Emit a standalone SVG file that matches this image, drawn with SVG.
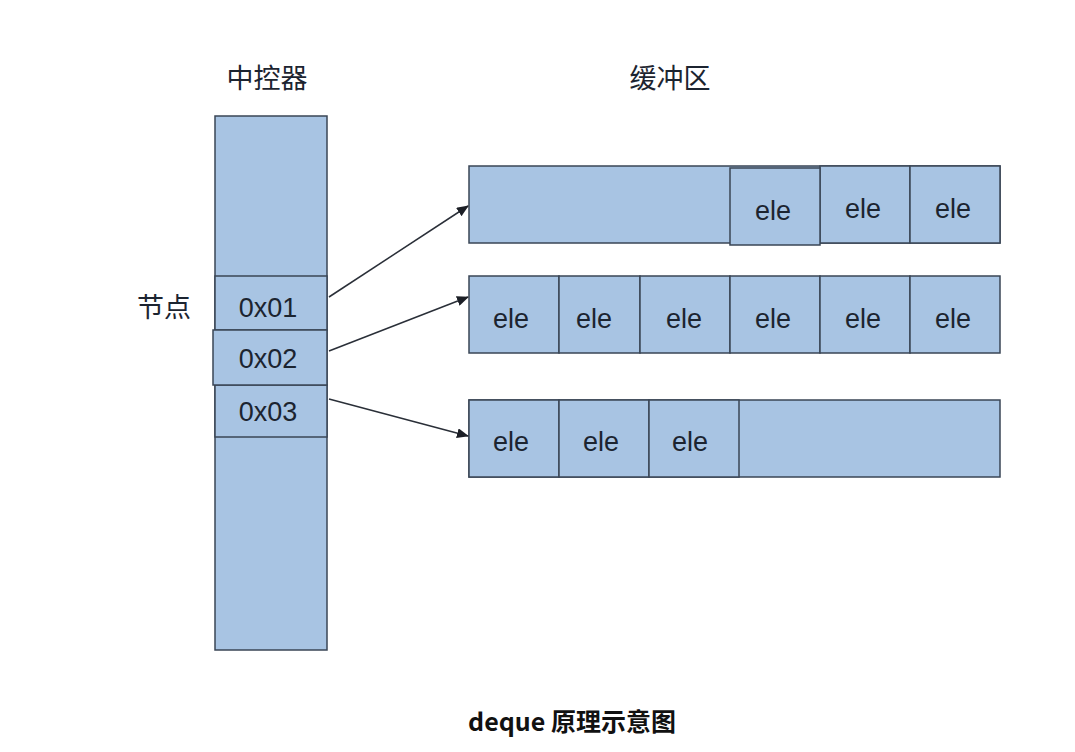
<svg xmlns="http://www.w3.org/2000/svg" width="1075" height="752" viewBox="0 0 1075 752">
<style>
.c{fill:#a8c4e3;stroke:#3a4656;stroke-width:1.5}
.t{font-family:"Liberation Sans",Arial,sans-serif;font-size:27px;fill:#1c2430;text-anchor:middle}
.h{font-family:"Noto Sans CJK SC",sans-serif;font-size:27px;fill:#1c2430;text-anchor:middle}
.cap{font-family:"Noto Sans CJK SC",sans-serif;font-size:25px;font-weight:bold;fill:#111;text-anchor:middle}
.a{stroke:#2a2f38;stroke-width:1.5;fill:none;marker-end:url(#ah)}
</style>
<defs>
<marker id="ah" markerWidth="12" markerHeight="10" refX="11" refY="5" orient="auto" markerUnits="userSpaceOnUse">
<path d="M0,0 L12,5 L0,10 Z" fill="#1c1f26"/>
</marker>
</defs>
<rect width="1075" height="752" fill="#fff"/>
<text class="h" x="267" y="88">中控器</text>
<text class="h" x="670" y="88">缓冲区</text>
<text class="h" x="164" y="317">节点</text>
<g id="controller">
<rect class="c" x="215" y="116" width="112" height="534"/>
<rect class="c" x="215" y="276" width="112" height="54"/>
<rect class="c" x="215" y="385" width="112" height="52"/>
<rect class="c" x="213" y="330" width="114" height="55"/>
<text class="t" x="268" y="317">0x01</text>
<text class="t" x="268" y="368">0x02</text>
<text class="t" x="268" y="421">0x03</text>
</g>
<g id="buffer1">
<rect class="c" x="469" y="166" width="531" height="77"/>
<rect class="c" x="820" y="166" width="90" height="77"/>
<rect class="c" x="910" y="166" width="90" height="77"/>
<rect class="c" x="730" y="168" width="90" height="77"/>
<text class="t" x="773" y="220">ele</text>
<text class="t" x="863" y="218">ele</text>
<text class="t" x="953" y="218">ele</text>
</g>
<g id="buffer2">
<rect class="c" x="469" y="276" width="90" height="77"/>
<rect class="c" x="559" y="276" width="81" height="77"/>
<rect class="c" x="640" y="276" width="90" height="77"/>
<rect class="c" x="730" y="276" width="90" height="77"/>
<rect class="c" x="820" y="276" width="90" height="77"/>
<rect class="c" x="910" y="276" width="90" height="77"/>
<text class="t" x="511" y="328">ele</text>
<text class="t" x="594" y="328">ele</text>
<text class="t" x="684" y="328">ele</text>
<text class="t" x="773" y="328">ele</text>
<text class="t" x="863" y="328">ele</text>
<text class="t" x="953" y="328">ele</text>
</g>
<g id="buffer3">
<rect class="c" x="469" y="400" width="531" height="77"/>
<rect class="c" x="469" y="400" width="90" height="77"/>
<rect class="c" x="559" y="400" width="90" height="77"/>
<rect class="c" x="649" y="400" width="90" height="77"/>
<text class="t" x="511" y="451">ele</text>
<text class="t" x="601" y="451">ele</text>
<text class="t" x="690" y="451">ele</text>
</g>
<g id="connectors">
<line class="a" x1="329" y1="297" x2="468" y2="206"/>
<line class="a" x1="329" y1="351" x2="468" y2="297"/>
<line class="a" x1="329" y1="399" x2="468" y2="436"/>
</g>
<text class="cap" x="572" y="731">deque 原理示意图</text>
</svg>
